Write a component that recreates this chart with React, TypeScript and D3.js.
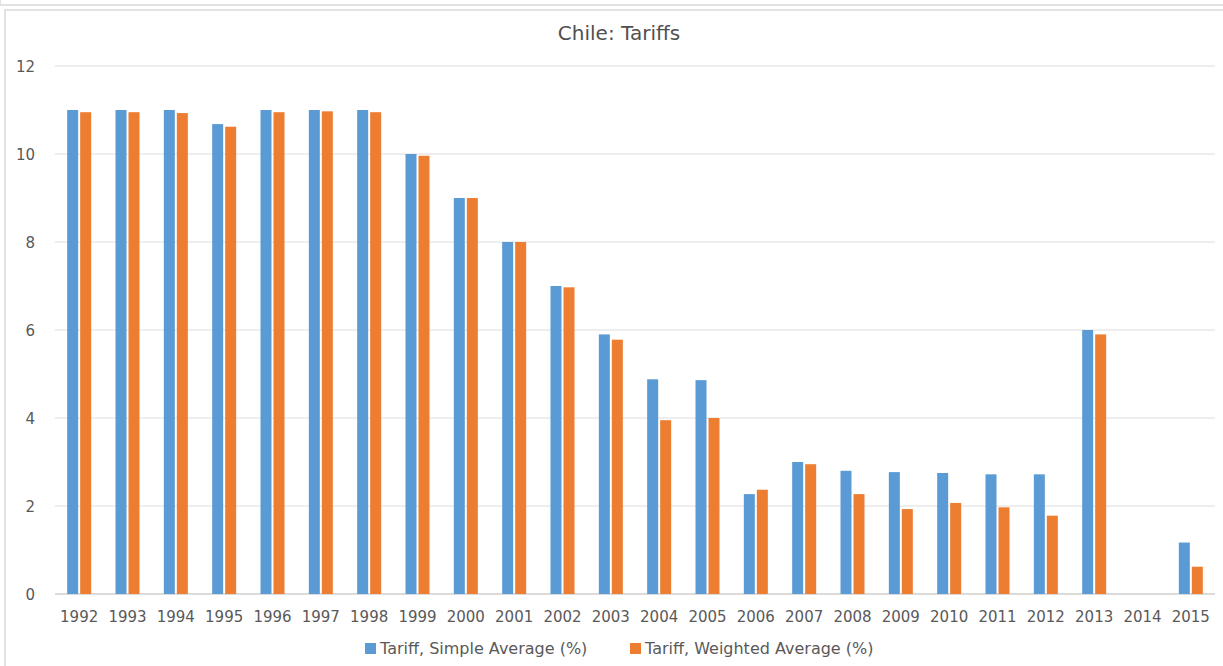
import React from "react";
import * as d3 from "d3";

const years = ["1992","1993","1994","1995","1996","1997","1998","1999","2000","2001","2002","2003","2004","2005","2006","2007","2008","2009","2010","2011","2012","2013","2014","2015"];
const simpleAvg: (number | null)[] = [11.0, 11.0, 11.0, 10.68, 11.0, 11.0, 11.0, 10.0, 9.0, 8.0, 7.0, 5.9, 4.88, 4.86, 2.27, 3.0, 2.8, 2.77, 2.75, 2.72, 2.72, 6.0, null, 1.17];
const weightedAvg: (number | null)[] = [10.95, 10.95, 10.93, 10.62, 10.95, 10.97, 10.95, 9.96, 9.0, 8.0, 6.97, 5.78, 3.95, 4.0, 2.37, 2.95, 2.27, 1.93, 2.07, 1.97, 1.78, 5.9, null, 0.62];
const seriesNames = ["Tariff, Simple Average (%)", "Tariff, Weighted Average (%)"];
const yTicks = [0, 2, 4, 6, 8, 10, 12];

const W = 1223, H = 666;
const colors = ["#5B9BD5", "#ED7D31"];
const font = "'DejaVu Sans', 'Open Sans', sans-serif";

export default function App() {
  const left = 55, right = 1215, top = 66, bottom = 594;
  const x = d3.scaleBand<string>().domain(years).range([left, right]).paddingInner(0).paddingOuter(0);
  const y = d3.scaleLinear().domain([0, 12]).range([bottom, top]);
  const bw = 11, gap = 2;
  const series = [simpleAvg, weightedAvg];
  return (
    <svg width={W} height={H} style={{ position: "absolute", left: 0, top: 0, background: "#fff" }}>
      <rect x={0} y={-10} width={W + 10} height={15} fill="none" stroke="#D9D9D9" strokeWidth={1.5} />
      <rect x={5} y={10} width={W + 10} height={H + 10} fill="#fff" stroke="#D9D9D9" strokeWidth={1.5} />
      <text x={619} y={40} textAnchor="middle" fontFamily={font} fontSize={20} fill="#505050">Chile: Tariffs</text>
      {yTicks.map((t) => (
        <g key={t}>
          <line x1={left} x2={right} y1={y(t)} y2={y(t)} stroke={t === 0 ? "#CFCFCF" : "#DDDDDD"} strokeWidth={t === 0 ? 1.5 : 1} />
          <text x={35} y={y(t) + 5.5} textAnchor="end" fontFamily={font} fontSize={15} fill="#595959">{t}</text>
        </g>
      ))}
      {series.map((s, si) =>
        s.map((v, i) => {
          if (v === null) return null;
          const c = (x(years[i]) as number) + x.bandwidth() / 2;
          const bx = si === 0 ? c - bw - gap / 2 : c + gap / 2;
          return (
            <rect key={si + "-" + i} x={bx} y={y(v)} width={bw} height={y(0) - y(v)} fill={colors[si]} />
          );
        })
      )}
      {years.map((yr) => (
        <text key={yr} x={(x(yr) as number) + x.bandwidth() / 2} y={622} textAnchor="middle" fontFamily={font} fontSize={15} fill="#595959">{yr}</text>
      ))}
      {seriesNames.map((n, i) => {
        const lx = i === 0 ? 365 : 630;
        return (
          <g key={n}>
            <rect x={lx} y={643} width={11} height={11} fill={colors[i]} />
            <text x={lx + 15} y={654} fontFamily={font} fontSize={16} fill="#595959">{n}</text>
          </g>
        );
      })}
    </svg>
  );
}
